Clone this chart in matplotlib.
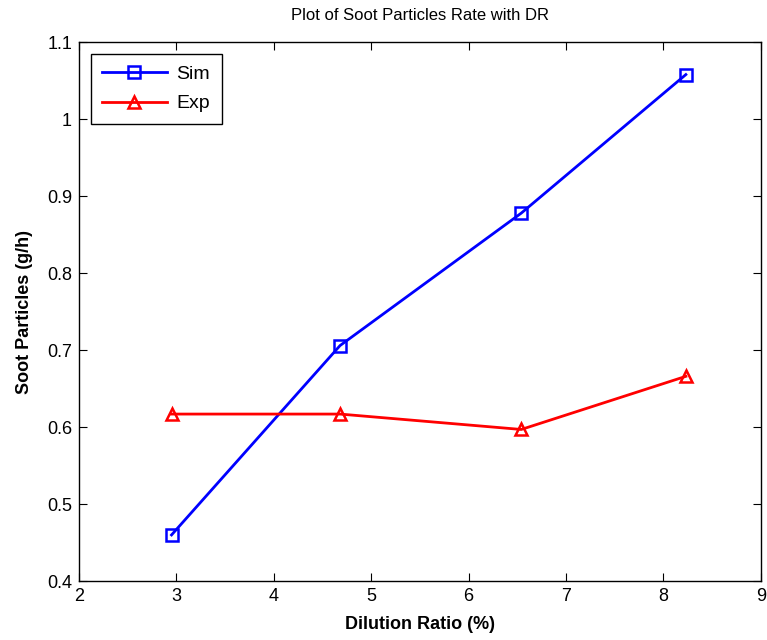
import matplotlib
matplotlib.use("Agg")
import matplotlib.pyplot as plt

dilution = [2.95, 4.68, 6.54, 8.23]
sim = [0.460, 0.706, 0.878, 1.058]
exp = [0.617, 0.617, 0.597, 0.666]
xticks = [2, 3, 4, 5, 6, 7, 8, 9]
yticks = [0.4, 0.5, 0.6, 0.7, 0.8, 0.9, 1.0, 1.1]
ytick_labels = ["0.4", "0.5", "0.6", "0.7", "0.8", "0.9", "1", "1.1"]

plt.rcParams['font.family'] = ['Liberation Sans', 'DejaVu Sans']

fig = plt.figure(figsize=(7.67, 6.4), dpi=100)
ax = fig.add_axes([0.103, 0.092, 0.889, 0.842])

ax.plot(dilution, sim, color='#0000ff', lw=2, marker='s', ms=9,
        markerfacecolor='none', markeredgewidth=1.8, label='Sim')
ax.plot(dilution, exp, color='#ff0000', lw=2, marker='^', ms=9,
        markerfacecolor='none', markeredgewidth=1.8, label='Exp')

ax.set_xlim(2, 9)
ax.set_ylim(0.4, 1.1)
ax.set_xticks(xticks)
ax.set_xticklabels([str(t) for t in xticks])
ax.set_yticks(yticks)
ax.set_yticklabels(ytick_labels)
ax.tick_params(direction='in', top=True, right=True, labelsize=13, length=6, pad=5)
for s in ax.spines.values():
    s.set_linewidth(1)

ax.set_title('Plot of Soot Particles Rate with DR', fontsize=12, pad=16)
ax.set_xlabel('Dilution Ratio (%)', fontsize=13, fontweight='bold', labelpad=8)
ax.set_ylabel('Soot Particles (g/h)', fontsize=13, fontweight='bold', labelpad=10)

leg = ax.legend(loc='upper left', fontsize=14, fancybox=False, edgecolor='black',
                framealpha=1, borderaxespad=0.6, handlelength=3.3,
                labelspacing=0.6, borderpad=0.6, handletextpad=0.5)
leg.get_frame().set_linewidth(1)

fig.savefig('out.png', dpi=100)
